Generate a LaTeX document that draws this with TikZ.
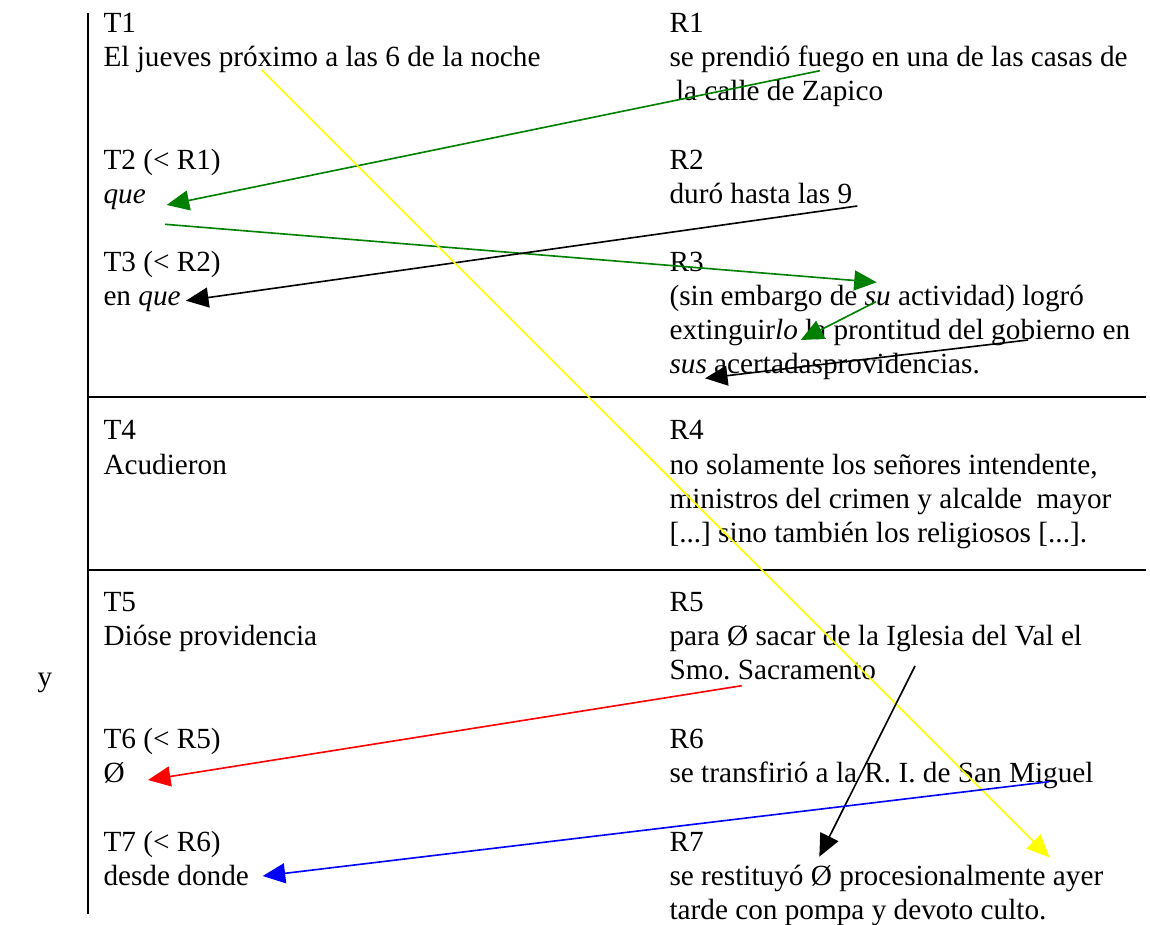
\documentclass[tikz,border=0pt]{standalone}
\usepackage{fontspec}
\setmainfont{Liberation Serif}
\usetikzlibrary{arrows.meta}
\definecolor{lgreen}{RGB}{0,128,0}
\definecolor{lyellow}{RGB}{255,255,0}
\frenchspacing
\begin{document}
\begin{tikzpicture}[x=0.4pt,y=-0.4pt,
  txt/.style={anchor=base west,inner sep=0pt,font=\fontsize{11.7}{14}\selectfont\frenchspacing},
  rulestyle/.style={line width=0.75pt,black},
  link/.style={line width=0.65pt,-{Triangle[length=9pt,width=8pt]}}]
\useasboundingbox (0,0) rectangle (1150,924);

% table rules
\coordinate (vtop) at (88,13);
\coordinate (vbot) at (88,914);
\coordinate (h1l) at (88,397);
\coordinate (h1r) at (1146,397);
\coordinate (h2l) at (88,570);
\coordinate (h2r) at (1146,570);
\draw[rulestyle] (vtop) -- (vbot);
\draw[rulestyle] (h1l) -- (h1r);
\draw[rulestyle] (h2l) -- (h2r);

% left label
\node[txt] (ylab) at (37,686) {y};

% block 1, T column
\node[txt] (t1)  at (103,33)  {T1};
\node[txt] (t1a) at (103,67)  {El jueves próximo a las 6 de la noche};
\node[txt] (t2)  at (103,170) {T2 (< R1)};
\node[txt] (t2a) at (103,204) {\textit{que}};
\node[txt] (t3)  at (103,272) {T3 (< R2)};
\node[txt] (t3a) at (103,306) {en \textit{que}};
% block 1, R column
\node[txt] (r1)  at (669,33)  {R1};
\node[txt] (r1a) at (669,67)  {se prendió fuego en una de las casas de};
\node[txt] (r1b) at (669,101) {\hspace{2.6pt}la calle de Zapico};
\node[txt] (r2)  at (669,170) {R2};
\node[txt] (r2a) at (669,204) {duró hasta las 9};
\node[txt] (r3)  at (669,272) {R3};
\node[txt] (r3a) at (669,306) {(sin embargo de \textit{su} actividad) logró};
\node[txt] (r3b) at (669,340) {extinguir\textit{lo} la prontitud del gobierno en};
\node[txt] (r3c) at (669,374) {\textit{sus} acertadasprovidencias.};

% block 2
\node[txt] (t4)  at (103,440) {T4};
\node[txt] (t4a) at (103,474) {Acudieron};
\node[txt] (r4)  at (669,440) {R4};
\node[txt] (r4a) at (669,474) {no solamente los señores intendente,};
\node[txt] (r4b) at (669,508) {ministros del crimen y alcalde\ \ mayor};
\node[txt] (r4c) at (669,542) {[...] sino también los religiosos [...].};

% block 3, T column
\node[txt] (t5)  at (103,611) {T5};
\node[txt] (t5a) at (103,645) {Dióse providencia};
\node[txt] (t6)  at (103,748) {T6 (< R5)};
\node[txt] (t6a) at (103,782) {Ø};
\node[txt] (t7)  at (103,851) {T7 (< R6)};
\node[txt] (t7a) at (103,885) {desde donde};
% block 3, R column
\node[txt] (r5)  at (669,611) {R5};
\node[txt] (r5a) at (669,645) {para Ø sacar de la Iglesia del Val el};
\node[txt] (r5b) at (669,679) {Smo. Sacramento};
\node[txt] (r6)  at (669,748) {R6};
\node[txt] (r6a) at (669,782) {se transfirió a la R. I. de San Miguel};
\node[txt] (r7)  at (669,851) {R7};
\node[txt] (r7a) at (669,885) {se restituyó Ø procesionalmente ayer};
\node[txt] (r7b) at (669,919) {tarde con pompa y devoto culto.};

% connector end points
\coordinate (gAs) at (820,70.7);
\coordinate (gAe) at (166.7,205);
\coordinate (gBs) at (165,224.3);
\coordinate (gBe) at (876.7,282.3);
\coordinate (kAs) at (857.3,206);
\coordinate (kAe) at (186,300.7);
\coordinate (gCs) at (876,301.7);
\coordinate (gCe) at (800.7,340);
\coordinate (kBs) at (1028,340);
\coordinate (kBe) at (705,378.3);
\coordinate (ys)  at (261.7,70);
\coordinate (ye)  at (1049.3,857.3);
\coordinate (rs)  at (741.7,685.7);
\coordinate (re)  at (148,780);
\coordinate (kCs) at (915,666);
\coordinate (kCe) at (819.3,856.7);
\coordinate (bs)  at (1049,781.7);
\coordinate (be)  at (262.7,876);

\draw[link,lgreen] (gAs) -- (gAe);
\draw[link,lgreen] (gBs) -- (gBe);
\draw[link,black]  (kAs) -- (kAe);
\draw[link,lgreen] (gCs) -- (gCe);
\draw[link,black]  (kBs) -- (kBe);
\draw[link,lyellow] (ys) -- (ye);
\draw[link,red]    (rs) -- (re);
\draw[link,black]  (kCs) -- (kCe);
\draw[link,blue]   (bs) -- (be);
\end{tikzpicture}
\end{document}
